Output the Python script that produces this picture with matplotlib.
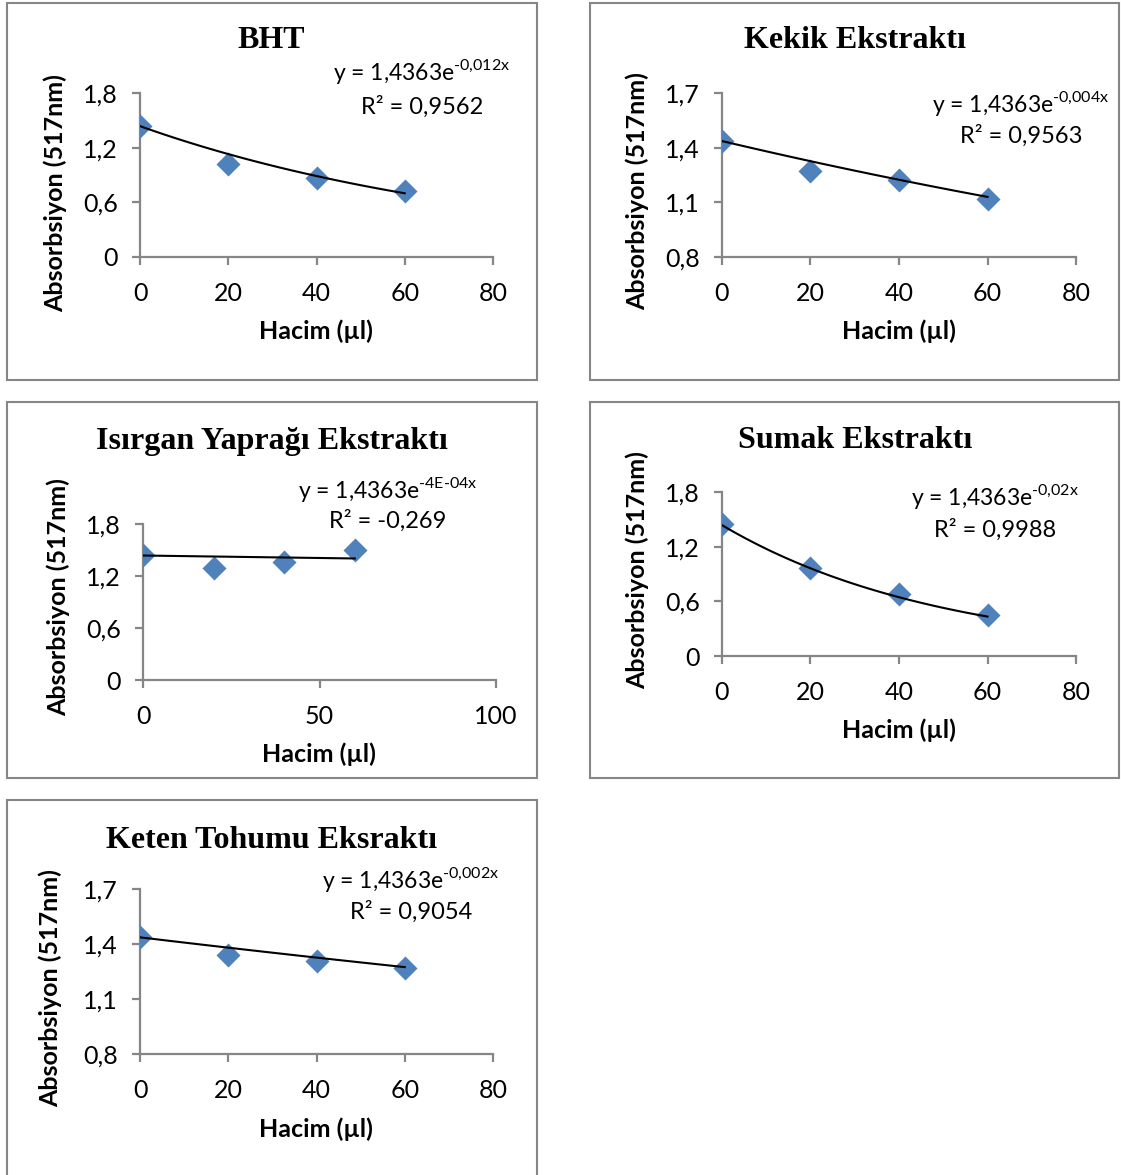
import numpy as np
import matplotlib
matplotlib.use('Agg')
import matplotlib.pyplot as plt
from matplotlib.patches import Rectangle

W, H = 1121, 1175
plt.rcParams['font.family'] = ['Lato', 'DejaVu Sans']
plt.rcParams['mathtext.fontset'] = 'custom'
plt.rcParams['mathtext.rm'] = 'Lato'

# data
volume = [0, 20, 40, 60]
bht = [1.44, 1.02, 0.87, 0.72]
kekik = [1.437, 1.27, 1.22, 1.12]
isirgan = [1.44, 1.29, 1.36, 1.50]
sumak = [1.45, 0.97, 0.68, 0.45]
keten = [1.44, 1.34, 1.31, 1.27]

# exponential trendline coefficients (y = a*e^(b*x)) as shown on the chart
trend_a = 1.4363
trend_b = [-0.012, -0.004, -4e-4, -0.02, -0.002]
exponents = ['\u20100{,}012x', '\u20100{,}004x', '\u20104E\u201004x', '\u20100{,}02x', '\u20100{,}002x']
r2_labels = ['R\u00b2 = 0,9562', 'R\u00b2 = 0,9563', 'R\u00b2 = -0,269', 'R\u00b2 = 0,9988', 'R\u00b2 = 0,9054']
titles = ['BHT', 'Kekik Ekstrakt\u0131', 'Is\u0131rgan Yapra\u011f\u0131 Ekstrakt\u0131',
          'Sumak Ekstrakt\u0131', 'Keten Tohumu Eksrakt\u0131']
series = [bht, kekik, isirgan, sumak, keten]
y_ticks = [[0, 0.6, 1.2, 1.8], [0.8, 1.1, 1.4, 1.7], [0, 0.6, 1.2, 1.8],
           [0, 0.6, 1.2, 1.8], [0.8, 1.1, 1.4, 1.7]]
x_ticks = [[0, 20, 40, 60, 80], [0, 20, 40, 60, 80], [0, 50, 100],
           [0, 20, 40, 60, 80], [0, 20, 40, 60, 80]]

# layout in pixels: panel box, axes box (l, t, r, b), title, ylabel, xlabel, equation centre
layout = [
    dict(box=(7, 3, 537, 380), ax=(140, 93, 493, 257), title=(271, 41), ylab=(55, 193), xlab=(316, 331), eq=(422, 72, 107)),
    dict(box=(590, 3, 1119, 380), ax=(722, 93, 1076, 257), title=(855, 41), ylab=(637, 191), xlab=(899, 331), eq=(1021, 103, 136)),
    dict(box=(7, 402, 537, 778), ax=(143, 524, 496, 680), title=(272, 441), ylab=(58, 597), xlab=(319, 754), eq=(388, 489, 521)),
    dict(box=(590, 402, 1119, 778), ax=(722, 492, 1076, 656), title=(855, 440), ylab=(637, 570), xlab=(899, 730), eq=(995, 497, 530)),
    dict(box=(7, 800, 537, 1190), ax=(140, 889, 493, 1054), title=(272, 840), ylab=(50, 988), xlab=(316, 1129), eq=(411, 880, 912)),
]

grey = '#868686'
blue = '#4F81BD'

fig = plt.figure(figsize=(W / 100, H / 100), dpi=100)


def fx(x):
    return x / W


def fy(y):
    return 1 - y / H


for i, lay in enumerate(layout):
    bx0, by0, bx1, by1 = lay['box']
    fig.patches.append(Rectangle((fx(bx0), fy(by1)), fx(bx1 - bx0), (by1 - by0) / H,
                                 transform=fig.transFigure, fill=False, edgecolor=grey, lw=1.5))
    l, t, r, b = lay['ax']
    ax = fig.add_axes([fx(l), fy(b), fx(r - l), (b - t) / H])
    xt = x_ticks[i]
    yt = y_ticks[i]
    ax.scatter(volume, series[i], marker='D', s=150, color=blue, zorder=3, linewidths=0)
    xs = np.linspace(0, 60, 100)
    ax.plot(xs, trend_a * np.exp(trend_b[i] * xs), color='black', lw=1.5, zorder=4)
    ax.set_xlim(xt[0], xt[-1])
    ax.set_ylim(yt[0], yt[-1])
    ax.set_xticks(xt)
    ax.set_yticks(yt)
    ax.set_xticklabels([str(v) for v in xt])
    ax.set_yticklabels([('%g' % v).replace('.', ',') for v in yt])
    for s in ['top', 'right']:
        ax.spines[s].set_visible(False)
    for s in ['left', 'bottom']:
        ax.spines[s].set_color(grey)
        ax.spines[s].set_linewidth(1.6)
    ax.tick_params(direction='out', length=6, width=1.6, color=grey, labelsize=18, pad=10)
    ax.tick_params(axis='x', pad=12)
    ax.patch.set_alpha(0)

    tx, ty = lay['title']
    fig.text(fx(tx), fy(ty), titles[i], family='Liberation Serif', weight='bold', fontsize=23,
             ha='center', va='center')
    lx, ly = lay['ylab']
    fig.text(fx(lx), fy(ly), 'Absorbsiyon (517nm)', weight='bold', fontsize=18, rotation=90,
             ha='center', va='center')
    hx, hy = lay['xlab']
    fig.text(fx(hx), fy(hy), 'Hacim (\u00b5l)', weight='bold', fontsize=18, ha='center', va='center')
    ex, ey1, ey2 = lay['eq']
    fig.text(fx(ex), fy(ey1), r'y = 1,4363e$^{\mathregular{%s}}$' % exponents[i], fontsize=16.5,
             ha='center', va='center')
    fig.text(fx(ex), fy(ey2), r2_labels[i], fontsize=17, ha='center', va='center')

fig.savefig('out.png', dpi=100)
